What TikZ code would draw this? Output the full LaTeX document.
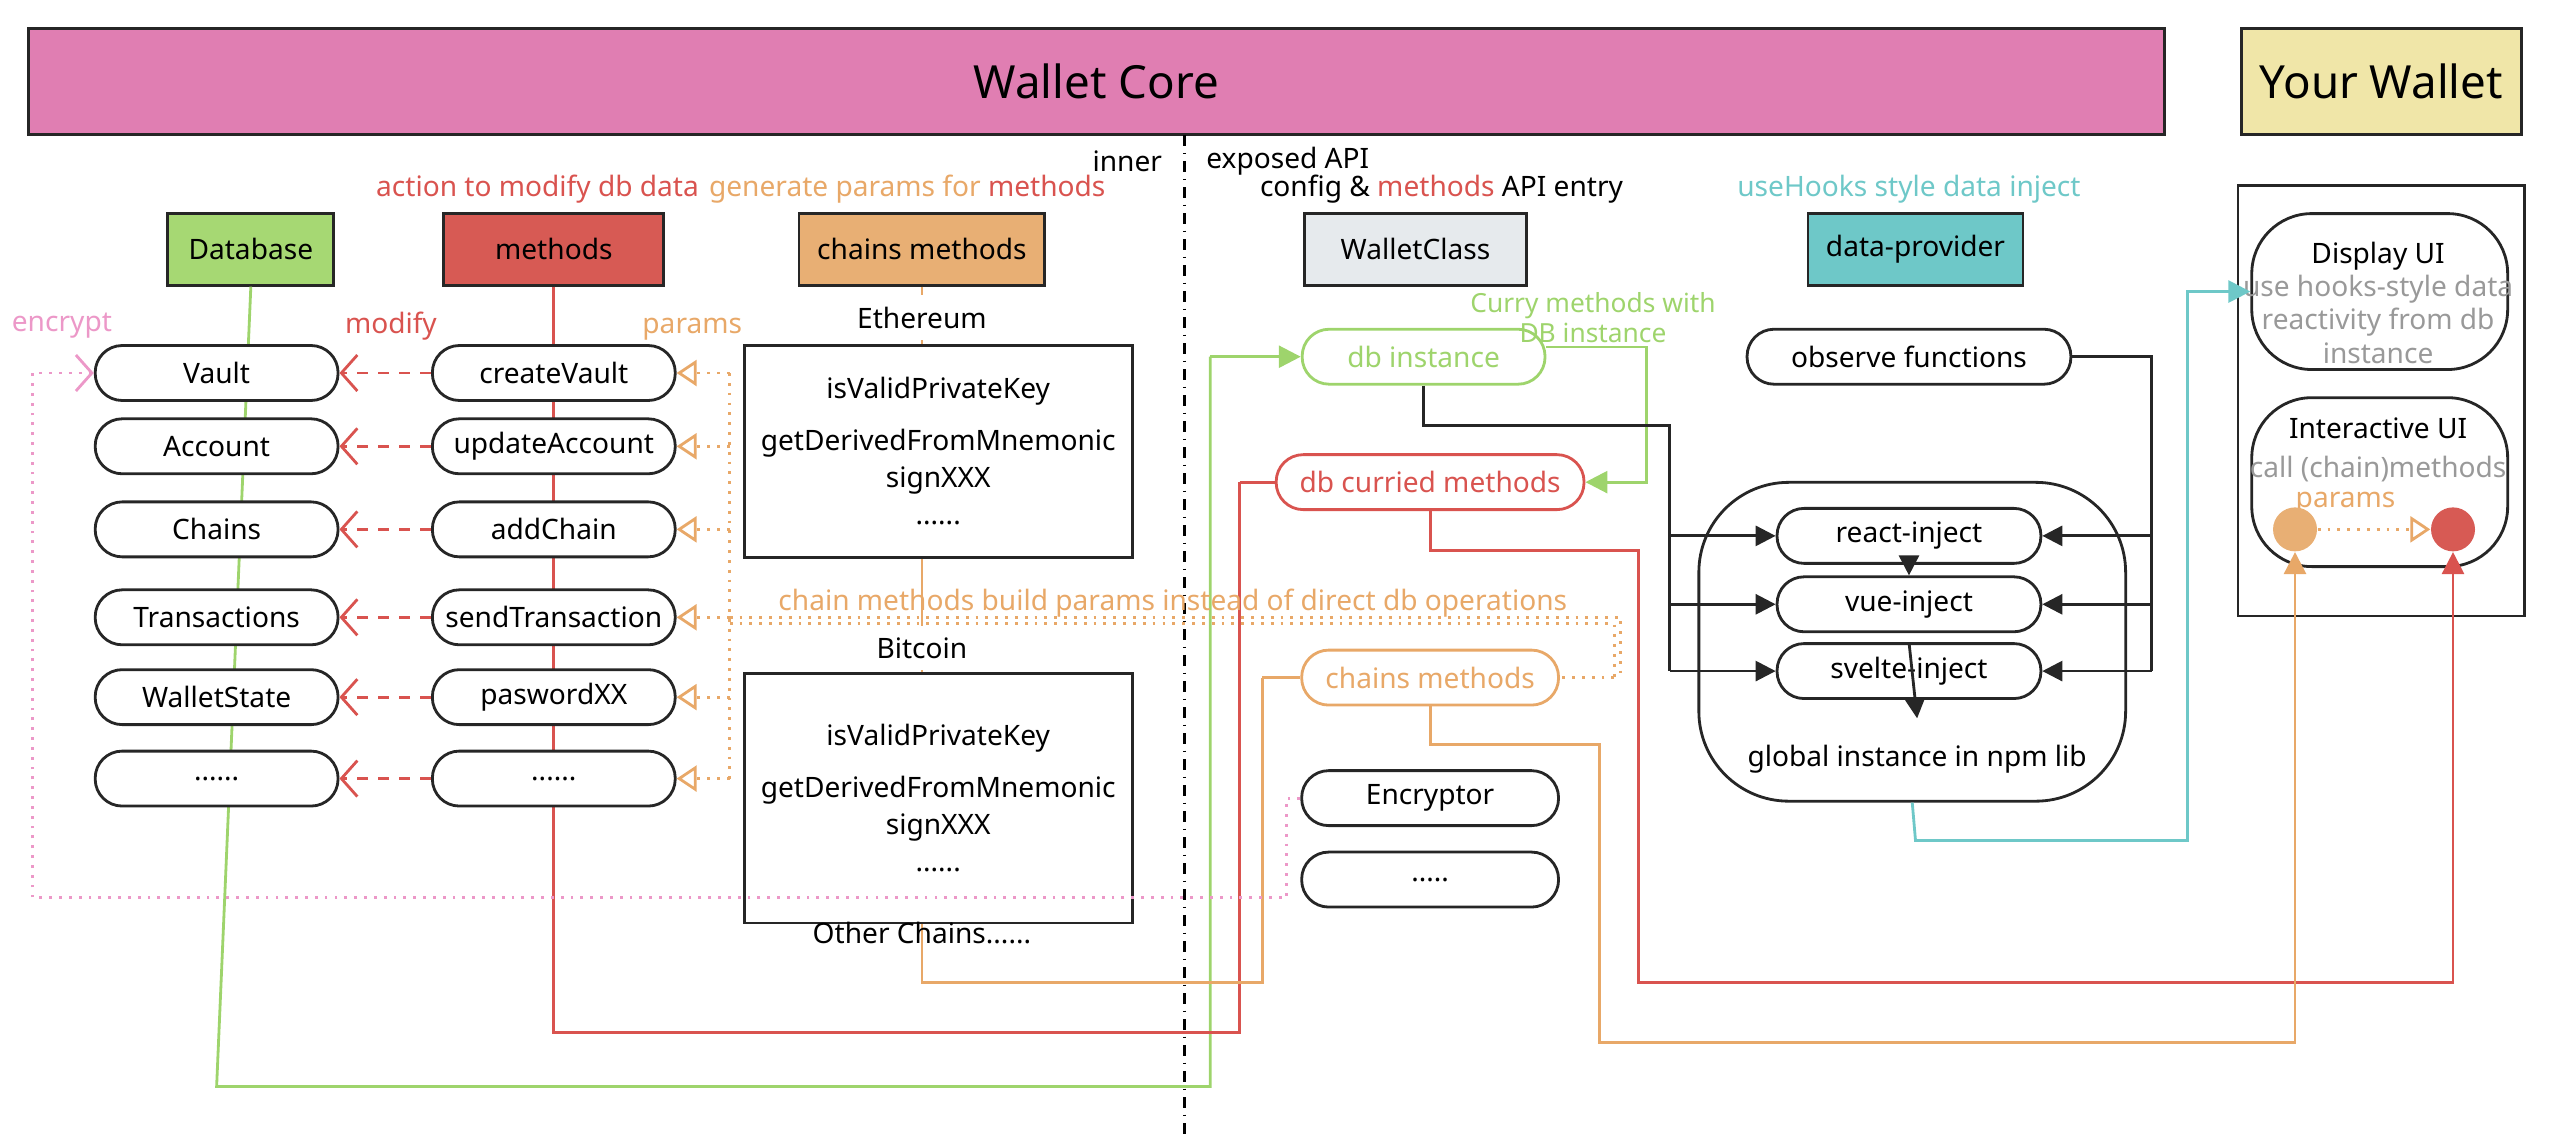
\documentclass[tikz,border=0pt]{standalone}
\usepackage{fontspec}
\setmainfont{Noto Sans}
\usetikzlibrary{arrows.meta}
\definecolor{corepink}{HTML}{E07EB2}
\definecolor{walletyellow}{HTML}{F0E6A8}
\definecolor{dbgreen}{HTML}{A6D873}
\definecolor{methred}{HTML}{D75A54}
\definecolor{chainorange}{HTML}{E8AF74}
\definecolor{classgray}{HTML}{E6EAED}
\definecolor{provcyan}{HTML}{6EC8C8}
\definecolor{lgreen}{HTML}{9ED46C}
\definecolor{lred}{HTML}{D9534F}
\definecolor{lorange}{HTML}{E8A868}
\definecolor{lpink}{HTML}{EC98C8}
\definecolor{txtgray}{HTML}{999999}

\begin{document}
\begin{tikzpicture}[x=0.01629cm, y=-0.01629cm,
    font=\fontsize{8}{9.6}\selectfont,
    head/.style={draw=black!85, thick, minimum height=7.2mm, inner sep=0pt},
    pill/.style={draw=black!85, thick, fill=white, rounded corners=2.7mm, minimum width=24.3mm, minimum height=5.5mm, inner sep=0pt},
    modarrow/.style={draw=lred, thick, dashed, -{Straight Barb[length=1.6mm,width=3.6mm]}},
    parrow/.style={draw=lorange, thick, dotted, -{Triangle[open,length=2mm,width=2.6mm]}},
    blk/.style={draw=black!85, thick, -{Triangle[length=2mm,width=2mm]}}]
    \useasboundingbox (0,0) rectangle (1568,697);

    % Top bars
    \node[head, fill=corepink, minimum width=213.7mm, minimum height=10.6mm, font=\fontsize{13}{15}\selectfont] (core) at (673,50) {Wallet Core};
    \node[head, fill=walletyellow, minimum width=28mm, minimum height=10.6mm, font=\fontsize{13}{15}\selectfont] (yours) at (1462,50) {Your Wallet};

    % inner / exposed divider
    \draw[dash dot, thick] (727,83) -- (727,697);
    \node[anchor=east] at (721,99) {inner};
    \node[anchor=west] at (733,99) {exposed API};

    % Column captions
    \node[text=lred] at (330,116) {action to modify db data};
    \node at (557,116) {\textcolor{lorange}{generate params for} \textcolor{lred}{methods}};
    \node at (885,116) {config \& \textcolor{lred}{methods} API entry};
    \node[text=provcyan] at (1172,116) {useHooks style data inject};

    % Header boxes
    \node[head, fill=dbgreen, minimum width=16.6mm] (database) at (154,153) {Database};
    \node[head, fill=methred, minimum width=22mm] (methods) at (340,153) {methods};
    \node[head, fill=chainorange, minimum width=24.6mm] (chains) at (566,153) {chains methods};
    \node[head, fill=classgray, minimum width=22.2mm] (walletclass) at (869,153) {WalletClass};
    \node[head, fill=provcyan, minimum width=21.5mm] (provider) at (1176,153) {data-provider};

    % Vertical spines behind the boxes
    \draw[lgreen, thick] (database.south) -- (133,667) -- (743,667) -- (743,219);
    \draw[lred, thick] (methods.south) -- (340,634) -- (761,634) -- (761,296);
    \draw[lorange, thick] (chains.south) -- (566,603) -- (775,603) -- (775,416);

    % Database rows and methods rows
    \node[pill] (vault) at (133,229) {Vault};
    \node[pill] (account) at (133,274) {Account};
    \node[pill] (chainsdb) at (133,325) {Chains};
    \node[pill] (txs) at (133,379) {Transactions};
    \node[pill] (state) at (133,428) {WalletState};
    \node[pill] (dbmore) at (133,478) {......};
    \node[pill] (createvault) at (340,229) {createVault};
    \node[pill] (updateacc) at (340,274) {updateAccount};
    \node[pill] (addchain) at (340,325) {addChain};
    \node[pill] (sendtx) at (340,379) {sendTransaction};
    \node[pill] (password) at (340,428) {paswordXX};
    \node[pill] (methmore) at (340,478) {......};
    \foreach \m/\d in {createvault/vault, updateacc/account, addchain/chainsdb, sendtx/txs, password/state, methmore/dbmore}
        \draw[modarrow] (\m.west) -- (\d.east);

    \node[text=lpink] at (38,200) {encrypt};
    \node[text=lred] at (240,200) {modify};
    \node[text=lorange] at (425,202) {params};

    % params from chain methods
    \draw[lorange, thick, dotted] (448,229) -- (448,478);
    \foreach \m in {createvault, updateacc, addchain, sendtx, password, methmore}
        \draw[parrow] (448,0 |- \m.east) -- (\m.east);

    % Chain method groups
    \node[fill=white, text=black] (eth) at (566,195) {Ethereum};
    \node[draw=black!85, thick, fill=white, minimum width=38.8mm, minimum height=21.2mm, align=center] (ethbox) at (576,277)
        {isValidPrivateKey\\[5pt] getDerivedFromMnemonic\\[1pt] signXXX\\[1pt] ......};
    \node[fill=white] (btc) at (566,398) {Bitcoin};
    \node[draw=black!85, thick, fill=white, minimum width=38.8mm, minimum height=25mm, align=center] (btcbox) at (576,490)
        {isValidPrivateKey\\[5pt] getDerivedFromMnemonic\\[1pt] signXXX\\[1pt] ......};
    \node (others) at (566,573) {Other Chains......};

    % chain methods build params
    \draw[lorange, thick, dotted] (448,379) -- (995,379) -- (995,416);
    \draw[lorange, thick, dotted] (448,383) -- (991,383) -- (991,416);
    \node[text=lorange] at (720,370) {chain methods build params instead of direct db operations};

    % exposed API instances
    \node[pill, draw=lgreen, text=lgreen, minimum width=24.3mm] (dbinst) at (874,219) {db instance};
    \node[pill, draw=lred, text=lred, minimum width=30.8mm] (curried) at (878,296) {db curried methods};
    \node[pill, draw=lorange, text=lorange, minimum width=25.7mm] (chaininst) at (878,416) {chains methods};
    \node[pill, minimum width=25.7mm] (encryptor) at (878,490) {Encryptor};
    \node[pill, minimum width=25.7mm] (apimore) at (878,540) {.....};
    \draw[lorange, thick, dotted] (991,416) -- (chaininst.east);
    \node[text=lgreen, align=center, font=\fontsize{7.5}{8.5}\selectfont] at (978,195) {Curry methods with\\DB instance};

    \draw[lgreen, thick, -{Triangle[length=2.2mm,width=2.2mm]}] (743,219) -- (dbinst.west);
    \draw[lred, thick] (761,296) -- (curried.west);
    \draw[lorange, thick] (775,416) -- (chaininst.west);
    \draw[lgreen, thick, -{Triangle[length=2.2mm,width=2.2mm]}] (dbinst.east |- 0,213) -- (1011,213) -- (1011,296) -- (curried.east);
    \draw[lpink, thick, dotted, -{Straight Barb[length=1.6mm,width=3.6mm]}] (encryptor.west) -- (790,490) -- (790,551) -- (20,551) -- (20,229) -- (vault.west);

    % data provider
    \node[pill, minimum width=32.4mm] (observe) at (1172,219) {observe functions};
    \node[draw=black!85, thick, rounded corners=9mm, minimum width=42.7mm, minimum height=31.9mm] (global) at (1174,394) {};
    \node at (1177,466) {global instance in npm lib};
    \node[pill, minimum width=26.4mm] (react) at (1172,329) {react-inject};
    \node[pill, minimum width=26.4mm] (vue) at (1172,371) {vue-inject};
    \node[pill, minimum width=26.4mm] (svelte) at (1172,412) {svelte-inject};
    \draw[blk] (react.south) -- (vue.north);
    \draw[blk] (svelte.north) -- (1177,441);
    \draw[thick, black!85] (dbinst.south) -- (874,261) -- (1025,261) -- (1025,412);
    \draw[thick, black!85] (observe.east) -- (1321,219) -- (1321,412);
    \foreach \n in {react, vue, svelte} {
        \draw[blk] (1025,0 |- \n.west) -- (\n.west);
        \draw[blk] (1321,0 |- \n.east) -- (\n.east);
    }

    % Your Wallet
    \node[draw=black!85, thick, minimum width=28.7mm, minimum height=43.1mm] (walletbox) at (1462,246) {};
    \node[draw=black!85, thick, rounded corners=6mm, minimum width=25.6mm, minimum height=15.6mm] (display) at (1461,179) {};
    \node at (1460,157) {Display UI};
    \node[text=txtgray, align=center] at (1460,196) {use hooks-style data\\reactivity from db\\instance};
    \node[draw=black!85, thick, rounded corners=6mm, minimum width=25.6mm, minimum height=16.9mm] (interactive) at (1461,296) {};
    \node at (1460,263) {Interactive UI};
    \node[text=txtgray] at (1460,288) {call (chain)methods};
    \node[text=lorange] at (1440,309) {params};
    \node[circle, fill=chainorange, minimum size=4.4mm, inner sep=0pt] (callfrom) at (1409,325) {};
    \node[circle, fill=methred, minimum size=4.4mm, inner sep=0pt] (callto) at (1506,325) {};
    \draw[parrow] (callfrom.east) -- (callto.west);

    % into Your Wallet
    \draw[provcyan, thick, -{Triangle[length=2.2mm,width=2.2mm]}] (global.south) -- (1176,516) -- (1343,516) -- (1343,179) -- (display.west);
    \draw[lred, thick, -{Triangle[length=2.2mm,width=2.2mm]}] (curried.south) -- (878,338) -- (1006,338) -- (1006,603) -- (1506,603) -- (callto.south);
    \draw[lorange, thick, -{Triangle[length=2.2mm,width=2.2mm]}] (chaininst.south) -- (878,457) -- (982,457) -- (982,640) -- (1409,640) -- (callfrom.south);
\end{tikzpicture}
\end{document}
